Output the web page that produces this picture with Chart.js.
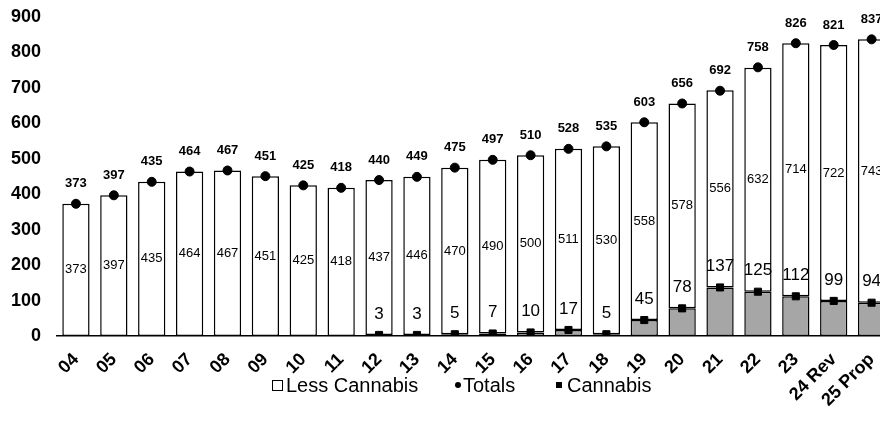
<!DOCTYPE html>
<html>
<head>
<meta charset="utf-8">
<script src="https://cdn.jsdelivr.net/npm/chart.js@4"></script>
<style>
  body { margin: 0; background: #fff; font-family: "Liberation Sans", Arial, sans-serif; }
  #wrap { position: relative; width: 880px; height: 423px; overflow: hidden; }
  #chart { position: absolute; left: 0; top: 0; }
  #legend { position: absolute; top: 372px; left: 0; width: 880px; height: 26px; font-size: 20px; color: #000; }
  #legend span { position: absolute; top: 0; line-height: 26px; }
  .box { position: absolute; }
</style>
</head>
<body>
<div id="wrap">
  <canvas id="chart" width="900" height="423"></canvas>
  <div id="legend">
    <div class="box" style="left:272px;top:8px;width:9px;height:9px;border:1px solid #000;background:#fff"></div>
    <span style="left:286px">Less Cannabis</span>
    <div class="box" style="left:455px;top:10px;width:6px;height:6px;border-radius:50%;background:#000"></div>
    <span style="left:463px">Totals</span>
    <div class="box" style="left:556px;top:10px;width:6px;height:6px;background:#000"></div>
    <span style="left:567px">Cannabis</span>
  </div>
</div>
<script>
const years = ['04', '05', '06', '07', '08', '09', '10', '11', '12', '13', '14', '15', '16', '17', '18', '19', '20', '21', '22', '23', '24 Rev', '25 Prop'];
const totals = [373, 397, 435, 464, 467, 451, 425, 418, 440, 449, 475, 497, 510, 528, 535, 603, 656, 692, 758, 826, 821, 837];
const lessCannabis = [373, 397, 435, 464, 467, 451, 425, 418, 437, 446, 470, 490, 500, 511, 530, 558, 578, 556, 632, 714, 722, 743];
const cannabis = [null, null, null, null, null, null, null, null, 3, 3, 5, 7, 10, 17, 5, 45, 78, 137, 125, 112, 99, 94];
const yTicks = [0, 100, 200, 300, 400, 500, 600, 700, 800, 900];

const FONT = '"Liberation Sans", Arial, sans-serif';

// Draw value labels for bars and markers
const valueLabels = {
  id: 'valueLabels',
  afterDatasetsDraw(chart) {
    const ctx = chart.ctx;
    ctx.save();
    ctx.fillStyle = '#000';
    ctx.textAlign = 'center';
    ctx.textBaseline = 'middle';

    // Less Cannabis: middle of the white segment
    const lessMeta = chart.getDatasetMeta(1);
    ctx.font = '13px ' + FONT;
    lessMeta.data.forEach((bar, i) => {
      const mid = (bar.y + bar.base) / 2;
      ctx.fillText(lessCannabis[i], bar.x, mid);
    });

    // Totals: above the dot
    const totMeta = chart.getDatasetMeta(2);
    ctx.font = 'bold 13px ' + FONT;
    totMeta.data.forEach((pt, i) => {
      ctx.fillText(totals[i], pt.x, pt.y - 20);
    });

    // Cannabis: above the square
    const canMeta = chart.getDatasetMeta(3);
    ctx.font = '17px ' + FONT;
    canMeta.data.forEach((pt, i) => {
      if (cannabis[i] == null) return;
      ctx.fillText(cannabis[i], pt.x, pt.y - 21);
    });
    ctx.restore();
  }
};

new Chart(document.getElementById('chart'), {
  data: {
    labels: years,
    datasets: [
      {
        type: 'bar',
        label: 'Cannabis bar',
        data: cannabis,
        stack: 'bars',
        backgroundColor: '#a6a6a6',
        borderColor: '#000',
        borderWidth: 1.5,
        borderSkipped: false,
        barPercentage: 0.72,
        categoryPercentage: 1,
        order: 1
      },
      {
        type: 'bar',
        label: 'Less Cannabis',
        data: lessCannabis,
        stack: 'bars',
        backgroundColor: '#fff',
        borderColor: '#000',
        borderWidth: 1.5,
        borderSkipped: false,
        barPercentage: 0.72,
        categoryPercentage: 1,
        order: 1
      },
      {
        type: 'line',
        label: 'Totals',
        data: totals,
        stack: 'tot',
        showLine: false,
        pointStyle: 'circle',
        pointRadius: 4.5,
        pointBackgroundColor: '#000',
        pointBorderColor: '#000',
        order: 0
      },
      {
        type: 'line',
        label: 'Cannabis',
        data: cannabis,
        stack: 'can',
        showLine: false,
        pointStyle: 'rect',
        pointRadius: 5,
        pointBackgroundColor: '#000',
        pointBorderColor: '#000',
        order: 0
      }
    ]
  },
  options: {
    responsive: false,
    animation: false,
    layout: { padding: { top: 17, right: 0, left: 0, bottom: 0 } },
    plugins: {
      legend: { display: false },
      tooltip: { enabled: false }
    },
    scales: {
      x: {
        stacked: true,
        grid: { display: false, drawTicks: false },
        border: { display: true, color: '#000', width: 1.5 },
        ticks: {
          color: '#000',
          font: { family: FONT, size: 18, weight: 'bold' },
          minRotation: 45,
          maxRotation: 45,
          padding: 13,
          autoSkip: false
        },
        afterFit: scale => { scale.height = 87; }
      },
      y: {
        stacked: true,
        min: 0,
        max: 900,
        afterBuildTicks: scale => { scale.ticks = yTicks.map(v => ({ value: v })); },
        grid: { display: false, drawTicks: false },
        border: { display: false },
        ticks: {
          color: '#000',
          font: { family: FONT, size: 18, weight: 'bold' },
          padding: 16
        },
        afterFit: scale => {
          scale.width = 57;
          scale.paddingTop = 0;
          scale.paddingBottom = 0;
        }
      }
    }
  },
  plugins: [valueLabels]
});
</script>
</body>
</html>
